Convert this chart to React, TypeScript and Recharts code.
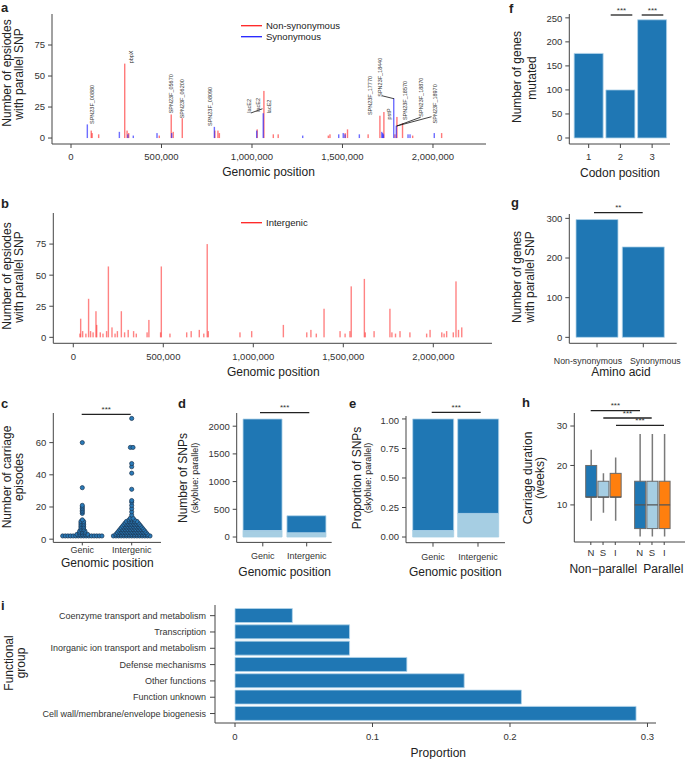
import React from 'react';
import { ComposedChart, BarChart, ScatterChart, Bar, Scatter, XAxis, YAxis, ReferenceLine } from 'recharts';

const FONT = '"Liberation Sans", Arial, Helvetica, sans-serif';
const DARK = '#1f77b4';
const LIGHT = '#a6cee3';
const ORANGE = '#ff7f0e';
const AXIS = '#444';
const TXT = '#222';

// a: genic parallel SNPs, position in kb and number of episodes
const NS_POS = [112, 117, 153, 297, 310, 319, 488, 554, 565, 615, 795, 812, 820, 1029, 1066, 1118, 1145, 1422, 1431, 1515, 1528, 1642, 1707, 1729, 1790, 1801, 1832, 1888, 2048];
const NS_EP = [6, 4, 3, 60, 6, 4, 2, 19, 5, 16, 6, 6, 4, 7, 38, 3, 3, 2, 3, 4, 7, 3, 18, 21, 3, 17, 12, 2, 4];
const SYN_POS = [90, 267, 314, 344, 475, 556, 792, 1026, 1062, 1280, 1479, 1504, 1514, 1593, 1717, 1722, 1726, 1783, 1797, 1862, 1873, 2007];
const SYN_EP = [11, 5, 3, 2, 4, 4, 9, 6, 20, 2, 3, 4, 3, 3, 5, 4, 3, 32, 10, 3, 3, 4];
const GENE_LABELS = ['SPN23F_00880', 'pbpX', 'SPN23F_05670', 'SPN23F_06200', 'SPN23F_08090', 'lacE2', 'lacE2', 'lacE2', 'SPN23F_17770', 'SPN23F_18440', 'pstP', 'SPN23F_18570', 'SPN23F_18870', 'SPN23F_18970'];
const GENE_LABEL_POS = [116, 331, 551, 613, 766, 982, 1033, 1092, 1652, 1707, 1757, 1844, 1932, 2011];
const GENE_LABEL_Y = [11.3, 60.2, 19.9, 15.9, 9.7, 20.4, 21.2, 19.9, 18.5, 33.3, 15, 14.5, 17.2, 11.8];

// b: intergenic parallel SNPs
const IG_POS = [37, 41, 52, 70, 85, 96, 110, 126, 130, 150, 165, 185, 195, 215, 232, 245, 267, 285, 305, 335, 350, 410, 420, 485, 489, 537, 630, 655, 700, 725, 744, 750, 926, 991, 1167, 1297, 1320, 1350, 1393, 1482, 1510, 1537, 1544, 1617, 1622, 1671, 1759, 1770, 1790, 1815, 1870, 1963, 1982, 2047, 2060, 2074, 2111, 2126, 2140, 2158];
const IG_EP = [3, 15, 5, 3, 31, 5, 4, 21, 10, 4, 3, 5, 57, 8, 3, 5, 21, 4, 6, 5, 3, 4, 14, 4, 57, 3, 4, 5, 6, 3, 75, 5, 4, 5, 10, 4, 6, 3, 23, 5, 3, 5, 41, 47, 4, 5, 23, 4, 3, 5, 4, 3, 6, 4, 3, 5, 4, 45, 6, 8];

// c: carriage episodes per SNP (value, number of SNPs)
const GENIC_VALS = [2, 3, 4, 5, 6, 7, 8, 9, 10, 11, 12, 16, 17, 18, 19, 20, 21, 32, 60];
const GENIC_COUNTS = [16, 5, 3, 3, 2, 2, 2, 2, 2, 2, 1, 1, 1, 1, 1, 1, 1, 1, 1];
const INTER_VALS = [2, 3, 4, 5, 6, 7, 8, 9, 10, 11, 12, 13, 15, 17, 19, 21, 23, 24, 31, 41, 45, 47, 57, 75];
const INTER_COUNTS = [15, 13, 12, 11, 10, 9, 8, 7, 6, 5, 3, 2, 1, 1, 1, 1, 1, 1, 1, 1, 1, 1, 2, 1];

// d, e
const POS_CATS = ['Genic', 'Intergenic'];
const SNP_PARALLEL = [117, 77];
const SNP_NONPARALLEL = [2013, 307];
const PROP_PARALLEL = [0.055, 0.2];
const PROP_NONPARALLEL = [0.945, 0.8];

// f, g
const CODON = ['1', '2', '3'];
const CODON_GENES = [176, 100, 246];
const AA = ['Non-synonymous', 'Synonymous'];
const AA_GENES = [297, 228];

// h: carriage duration boxes
const BOX_LABELS = ['N', 'S', 'I', 'N', 'S', 'I'];
const BOX_X = [1, 2, 3, 5, 6, 7];
const BOX_MIN = [6, 8, 6, 2, 2, 2];
const BOX_Q1 = [12, 12, 12, 4, 4, 4];
const BOX_MED = [12, 12, 12, 10, 10, 10];
const BOX_Q3 = [20, 16, 18, 16, 16, 16];
const BOX_MAX = [24, 18, 22, 28, 28, 28];

// i
const FUNC_GROUPS = ['Coenzyme transport and metabolism', 'Transcription', 'Inorganic ion transport and metabolism', 'Defense mechanisms', 'Other functions', 'Function unknown', 'Cell wall/membrane/envelope biogenesis'];
const FUNC_PROP = [0.0417, 0.0833, 0.0833, 0.125, 0.1667, 0.2083, 0.2917];

const BOX_COLORS: Record<string, string> = { N: DARK, S: LIGHT, I: ORANGE };
const SWARM_STEP = 0.053;

const spikeRowsA = [
  ...NS_POS.map((p, i) => ({ pos: p * 1000, ns: NS_EP[i] })),
  ...SYN_POS.map((p, i) => ({ pos: p * 1000, syn: SYN_EP[i] })),
].sort((a, b) => a.pos - b.pos);
const labelRowsA = GENE_LABELS.map((label, i) => ({ pos: GENE_LABEL_POS[i] * 1000, y: GENE_LABEL_Y[i], label }));
const spikeRowsB = IG_POS.map((p, i) => ({ pos: p * 1000, ig: IG_EP[i] }));

function swarm(vals: number[], counts: number[], center: number) {
  const pts: { x: number; y: number }[] = [];
  vals.forEach((v, i) => {
    const n = counts[i];
    for (let k = 0; k < n; k++) pts.push({ x: center + (k - (n - 1) / 2) * SWARM_STEP, y: v });
  });
  return pts;
}
const genicPts = swarm(GENIC_VALS, GENIC_COUNTS, 0);
const interPts = swarm(INTER_VALS, INTER_COUNTS, 1);

const snpRows = POS_CATS.map((c, i) => ({ cat: c, par: SNP_PARALLEL[i], non: SNP_NONPARALLEL[i] }));
const propRows = POS_CATS.map((c, i) => ({ cat: c, par: PROP_PARALLEL[i], non: PROP_NONPARALLEL[i] }));
const codonRows = CODON.map((c, i) => ({ cat: c, v: CODON_GENES[i] }));
const aaRows = AA.map((c, i) => ({ cat: c, v: AA_GENES[i] }));
const boxRows = BOX_X.map((x, i) => ({
  x, label: BOX_LABELS[i], min: BOX_MIN[i], q1: BOX_Q1[i], med: BOX_MED[i], q3: BOX_Q3[i], max: BOX_MAX[i],
}));
const funcRows = FUNC_GROUPS.map((g, i) => ({ name: g, v: FUNC_PROP[i] }));

const GENOMIC_TICKS = [0, 500000, 1000000, 1500000, 2000000];
const fmtGenomic = (v: number) => v.toLocaleString('en-US');
const tick = (size: number) => ({ fill: '#333', fontSize: size, fontFamily: FONT });
const line = { stroke: AXIS, strokeWidth: 1 };
const M0 = { top: 0, right: 0, bottom: 0, left: 0 };

// thin vertical spike centred on the bar slot, so close positions do not shrink it
const spike = (color: string, opacity: number) => (p: any) => {
  if (!p.height) return <g />;
  const top = Math.min(p.y, p.y + p.height);
  return <rect x={p.x + p.width / 2 - 0.7} y={top} width={1.4} height={Math.abs(p.height)} fill={color} fillOpacity={opacity} />;
};
const NsSpike = spike('#ff2020', 0.6);
const SynSpike = spike('#2020ff', 0.65);
const IgSpike = spike('#ff3030', 0.6);

const GeneLabel = (p: any) => (
  <text transform={`translate(${p.cx},${p.cy}) rotate(-90)`} fontSize={5.5} fill="#333" dominantBaseline="central" fontFamily={FONT}>
    {p.payload.label}
  </text>
);

const Dot = (p: any) => <circle cx={p.cx} cy={p.cy} r={2.1} fill="#2a7ab8" stroke="#1b3550" strokeWidth={0.7} />;

const BoxShape = (p: any) => {
  const { x, y, width, height, payload } = p;
  const top = Math.min(y, y + height);
  const h = Math.abs(height);
  const py = (v: number) => top + (h * (payload.max - v)) / (payload.max - payload.min);
  const cx = x + width / 2;
  return (
    <g>
      <line x1={cx} x2={cx} y1={py(payload.max)} y2={py(payload.min)} stroke="#7a7a7a" strokeWidth={1.5} />
      <rect x={x} y={py(payload.q3)} width={width} height={py(payload.q1) - py(payload.q3)} fill={BOX_COLORS[payload.label]} stroke="#6b6b6b" strokeWidth={1} />
      <line x1={x} x2={x + width} y1={py(payload.med)} y2={py(payload.med)} stroke="#555" strokeWidth={1.2} />
    </g>
  );
};

// category labels of panel i, kept on one line
const FuncTick = (p: any) => (
  <text x={p.x} y={p.y} textAnchor="end" dominantBaseline="central" fontSize={9} fill="#333" fontFamily={FONT}>
    {p.payload.value}
  </text>
);

// amino acid labels sit a little apart so the long names do not collide
const AaTick = (p: any) => (
  <text x={p.x + (p.index === 0 ? -9 : 12)} y={p.y + 7} textAnchor="middle" dominantBaseline="central" fontSize={8.8} fill="#333" fontFamily={FONT}>
    {p.payload.value}
  </text>
);

const At = ({ left, top, children }: { left: number; top: number; children: React.ReactNode }) => (
  <div style={{ position: 'absolute', left, top }}>{children}</div>
);

const VT = ({ x, y, size = 12, children }: { x: number; y: number; size?: number; children: React.ReactNode }) => (
  <text transform={`translate(${x},${y}) rotate(-90)`} textAnchor="middle" dominantBaseline="central" fontSize={size} fill={TXT}>
    {children}
  </text>
);
const HT = ({ x, y, size = 12, children, anchor = 'middle', bold = false }: any) => (
  <text x={x} y={y} textAnchor={anchor} dominantBaseline="central" fontSize={size} fill={TXT} fontWeight={bold ? 'bold' : 'normal'}>
    {children}
  </text>
);
const Sig = ({ x1, x2, y, stars }: { x1: number; x2: number; y: number; stars: string }) => (
  <g>
    <line x1={x1} x2={x2} y1={y} y2={y} stroke="#222" strokeWidth={1.3} />
    <text x={(x1 + x2) / 2} y={y - 2.5} textAnchor="middle" fontSize={8} fill="#333">{stars}</text>
  </g>
);

export default function App() {
  return (
    <div style={{ position: 'absolute', left: 0, top: 0, width: 685, height: 759, background: '#fff', fontFamily: FONT, overflow: 'hidden' }}>
      {/* a */}
      <At left={0} top={14}>
        <ComposedChart width={486} height={160} data={spikeRowsA} margin={M0} barGap={0}>
          <XAxis dataKey="pos" type="number" domain={[-105000, 2293000]} allowDataOverflow ticks={GENOMIC_TICKS} tickFormatter={fmtGenomic}
            height={30} tick={tick(9.5)} axisLine={line} tickLine={line} tickSize={4} tickMargin={5.5} />
          <YAxis type="number" domain={[-4.8, 100]} allowDataOverflow ticks={[0, 25, 50, 75]} width={52}
            tick={tick(9.5)} axisLine={line} tickLine={line} tickSize={4} tickMargin={3} />
          <Bar dataKey="ns" shape={NsSpike} isAnimationActive={false} />
          <Bar dataKey="syn" shape={SynSpike} isAnimationActive={false} />
          <ReferenceLine segment={[{ x: 994000, y: 20.2 }, { x: 1058000, y: 23.6 }]} stroke="#111" strokeWidth={0.8} ifOverflow="visible" />
          <ReferenceLine segment={[{ x: 1718000, y: 34.1 }, { x: 1785000, y: 31.7 }]} stroke="#111" strokeWidth={0.8} ifOverflow="visible" />
          <ReferenceLine segment={[{ x: 1800000, y: 9.7 }, { x: 1932000, y: 16.8 }]} stroke="#111" strokeWidth={0.8} ifOverflow="visible" />
          <ReferenceLine segment={[{ x: 1800000, y: 9.7 }, { x: 1992000, y: 17.2 }]} stroke="#111" strokeWidth={0.8} ifOverflow="visible" />
          <Scatter data={labelRowsA} dataKey="y" shape={GeneLabel} isAnimationActive={false} />
        </ComposedChart>
      </At>

      {/* b */}
      <At left={0} top={213}>
        <ComposedChart width={492} height={160.3} data={spikeRowsB} margin={M0} barGap={0}>
          <XAxis dataKey="pos" type="number" domain={[-111000, 2326000]} allowDataOverflow ticks={GENOMIC_TICKS} tickFormatter={fmtGenomic}
            height={30} tick={tick(9.5)} axisLine={line} tickLine={line} tickSize={4} tickMargin={6} />
          <YAxis type="number" domain={[-4.8, 100]} allowDataOverflow ticks={[0, 25, 50, 75]} width={53.3}
            tick={tick(9.5)} axisLine={line} tickLine={line} tickSize={4} tickMargin={3} />
          <Bar dataKey="ig" shape={IgSpike} isAnimationActive={false} />
        </ComposedChart>
      </At>

      {/* c */}
      <At left={0} top={413.3}>
        <ScatterChart width={161} height={149.4} margin={M0}>
          <XAxis dataKey="x" type="number" domain={[-0.587, 1.593]} allowDataOverflow ticks={[0, 1]} tickFormatter={(v: number) => POS_CATS[v]}
            height={20} tick={tick(9)} axisLine={line} tickLine={line} tickSize={3} tickMargin={1} />
          <YAxis dataKey="y" type="number" domain={[-2, 78.4]} allowDataOverflow ticks={[0, 20, 40, 60]} width={53.3}
            tick={tick(9.5)} axisLine={line} tickLine={line} tickSize={4} tickMargin={3} />
          <Scatter data={genicPts} shape={Dot} isAnimationActive={false} />
          <Scatter data={interPts} shape={Dot} isAnimationActive={false} />
        </ScatterChart>
      </At>

      {/* d */}
      <At left={180} top={413.3}>
        <BarChart width={151.7} height={154.4} data={snpRows} margin={M0} barCategoryGap={2.2}>
          <XAxis dataKey="cat" padding={{ left: 4.15, right: 3.05 }} height={25} tick={tick(9)} axisLine={line} tickLine={line} tickSize={4} tickMargin={6.5} />
          <YAxis type="number" domain={[-97, 2238]} allowDataOverflow ticks={[0, 500, 1000, 1500, 2000]} width={56.7}
            tick={tick(9.5)} axisLine={line} tickLine={line} tickSize={4} tickMargin={3} />
          <Bar dataKey="par" stackId="s" fill={LIGHT} stroke={LIGHT} strokeWidth={0.8} isAnimationActive={false} />
          <Bar dataKey="non" stackId="s" fill={DARK} stroke="#b3d4ea" strokeWidth={0.8} isAnimationActive={false} />
        </BarChart>
      </At>

      {/* e */}
      <At left={350} top={416}>
        <BarChart width={155} height={151.7} data={propRows} margin={M0} barCategoryGap={2.2}>
          <XAxis dataKey="cat" padding={{ left: 4.5, right: 4.5 }} height={25} tick={tick(9)} axisLine={line} tickLine={line} tickSize={4} tickMargin={6.5} />
          <YAxis type="number" domain={[-0.048, 1.025]} allowDataOverflow ticks={[0, 0.25, 0.5, 0.75, 1]} tickFormatter={(v: number) => v.toFixed(2)} width={56}
            tick={tick(9.5)} axisLine={line} tickLine={line} tickSize={4} tickMargin={3} />
          <Bar dataKey="par" stackId="s" fill={LIGHT} stroke={LIGHT} strokeWidth={0.8} isAnimationActive={false} />
          <Bar dataKey="non" stackId="s" fill={DARK} stroke="#b3d4ea" strokeWidth={0.8} isAnimationActive={false} />
        </BarChart>
      </At>

      {/* f */}
      <At left={540} top={14}>
        <BarChart width={130} height={155} data={codonRows} margin={M0} barCategoryGap={1.35}>
          <XAxis dataKey="cat" padding={{ left: 3.5, right: 2 }} height={25} tick={tick(9.5)} axisLine={line} tickLine={line} tickSize={4} tickMargin={5} />
          <YAxis type="number" domain={[-12.5, 258]} allowDataOverflow ticks={[0, 50, 100, 150, 200, 250]} width={29.3}
            tick={tick(9.5)} axisLine={line} tickLine={line} tickSize={4} tickMargin={3} />
          <Bar dataKey="v" fill={DARK} stroke="#b3d4ea" strokeWidth={0.8} isAnimationActive={false} />
        </BarChart>
      </At>

      {/* g */}
      <At left={540} top={214}>
        <BarChart width={145} height={154.3} data={aaRows} margin={{ top: 0, right: 8.3, bottom: 0, left: 0 }} barCategoryGap={2.15}>
          <XAxis dataKey="cat" padding={{ left: 4.55, right: 10.25 }} height={25} interval={0} tick={AaTick} axisLine={line} tickLine={line} tickSize={4} tickMargin={6.5} />
          <YAxis type="number" domain={[-15, 311]} allowDataOverflow ticks={[0, 100, 200, 300]} width={29.3}
            tick={tick(9.5)} axisLine={line} tickLine={line} tickSize={4} tickMargin={3} />
          <Bar dataKey="v" fill={DARK} stroke="#b3d4ea" strokeWidth={0.8} isAnimationActive={false} />
        </BarChart>
      </At>

      {/* h */}
      <At left={540} top={413.3}>
        <ComposedChart width={145} height={149} data={boxRows} margin={M0}>
          <XAxis dataKey="x" type="number" domain={[-0.35, 8.7]} allowDataOverflow ticks={BOX_X} tickFormatter={(v: number) => BOX_LABELS[BOX_X.indexOf(v)]}
            height={20} tick={tick(9.5)} axisLine={line} tickLine={line} tickSize={3} tickMargin={4.5} />
          <YAxis type="number" domain={[0.6, 33.3]} allowDataOverflow ticks={[10, 20, 30]} width={34.3}
            tick={tick(9.5)} axisLine={line} tickLine={line} tickSize={4} tickMargin={3} />
          <Bar dataKey={(d: any) => [d.min, d.max]} barSize={11} shape={BoxShape} isAnimationActive={false} />
        </ComposedChart>
      </At>

      {/* i */}
      <At left={0} top={605}>
        <BarChart width={656} height={143} data={funcRows} layout="vertical" margin={M0} barCategoryGap={1}>
          <XAxis type="number" domain={[-0.01455, 0.3062]} allowDataOverflow ticks={[0, 0.1, 0.2, 0.3]} tickFormatter={(v: number) => String(v)}
            height={25} tick={tick(9.5)} axisLine={line} tickLine={line} tickSize={4} tickMargin={6.5} />
          <YAxis type="category" dataKey="name" width={215} padding={{ top: 2.5, bottom: 1.3 }} interval={0}
            tick={FuncTick} axisLine={line} tickLine={line} tickSize={5} tickMargin={4} />
          <Bar dataKey="v" fill={DARK} stroke="#b3d4ea" strokeWidth={0.8} isAnimationActive={false} />
        </BarChart>
      </At>

      {/* titles, legends, panel letters and significance bars */}
      <svg width={685} height={759} style={{ position: 'absolute', left: 0, top: 0, pointerEvents: 'none', fontFamily: FONT }}>
        <HT x={1} y={7} size={13} anchor="start" bold>a</HT>
        <HT x={1} y={203} size={13} anchor="start" bold>b</HT>
        <HT x={1} y={403} size={13} anchor="start" bold>c</HT>
        <HT x={178} y={403} size={13} anchor="start" bold>d</HT>
        <HT x={349} y={403} size={13} anchor="start" bold>e</HT>
        <HT x={509} y={8} size={13} anchor="start" bold>f</HT>
        <HT x={511} y={202} size={13} anchor="start" bold>g</HT>
        <HT x={522} y={402} size={13} anchor="start" bold>h</HT>
        <HT x={1} y={605} size={13} anchor="start" bold>i</HT>

        {/* a */}
        <VT x={7} y={73}>Number of epsiodes</VT>
        <VT x={18.5} y={74}>with parallel SNP</VT>
        <HT x={268.5} y={172}>Genomic position</HT>
        <line x1={241} x2={262} y1={25.7} y2={25.7} stroke="#ff2020" strokeWidth={1.3} />
        <line x1={241} x2={262} y1={36.7} y2={36.7} stroke="#2020ff" strokeWidth={1.3} />
        <HT x={266} y={25.7} size={9.5} anchor="start">Non-synonymous</HT>
        <HT x={266} y={36.7} size={9.5} anchor="start">Synonymous</HT>

        {/* b */}
        <VT x={7} y={276}>Number of epsiodes</VT>
        <VT x={18.5} y={277}>with parallel SNP</VT>
        <HT x={273.3} y={371.7}>Genomic position</HT>
        <line x1={241} x2={262} y1={222.7} y2={222.7} stroke="#ff2020" strokeWidth={1.3} />
        <HT x={266} y={222.7} size={9.5} anchor="start">Intergenic</HT>

        {/* c */}
        <VT x={7} y={477}>Number of carriage</VT>
        <VT x={18.5} y={477}>episodes</VT>
        <HT x={107.3} y={563.3}>Genomic position</HT>
        <Sig x1={81.7} x2={130.7} y={414.3} stars="***" />

        {/* d */}
        <VT x={183.3} y={478}>Number of SNPs</VT>
        <VT x={195} y={478} size={9}>(skyblue: parallel)</VT>
        <HT x={284.7} y={572.3}>Genomic position</HT>
        <Sig x1={260} x2={309.3} y={412.7} stars="***" />

        {/* e */}
        <VT x={356.7} y={478}>Proportion of SNPs</VT>
        <VT x={368.3} y={478} size={9}>(skyblue: parallel)</VT>
        <HT x={455.3} y={572.3}>Genomic position</HT>
        <Sig x1={431.7} x2={480.7} y={412.3} stars="***" />

        {/* f */}
        <VT x={517} y={77}>Number of genes</VT>
        <VT x={531.5} y={78}>mutated</VT>
        <HT x={620} y={172.7}>Codon position</HT>
        <Sig x1={610.7} x2={632.3} y={15} stars="***" />
        <Sig x1={641.7} x2={663.3} y={15} stars="***" />

        {/* g */}
        <VT x={517} y={277}>Number of genes</VT>
        <VT x={529.5} y={277}>with parallel SNP</VT>
        <HT x={621} y={372.3}>Amino acid</HT>
        <Sig x1={594} x2={642.7} y={212.7} stars="**" />

        {/* h */}
        <VT x={528.3} y={478}>Carriage duration</VT>
        <VT x={540} y={478}>(weeks)</VT>
        <HT x={603.3} y={569}>Non−parallel</HT>
        <HT x={663.3} y={569}>Parallel</HT>
        <Sig x1={590.7} x2={640} y={410.7} stars="***" />
        <Sig x1={603.3} x2={651.7} y={418} stars="***" />
        <Sig x1={616} x2={664} y={425.3} stars="***" />

        {/* i */}
        <VT x={9} y={663}>Functional</VT>
        <VT x={21} y={663}>group</VT>
        <HT x={438.3} y={753}>Proportion</HT>
      </svg>
    </div>
  );
}
